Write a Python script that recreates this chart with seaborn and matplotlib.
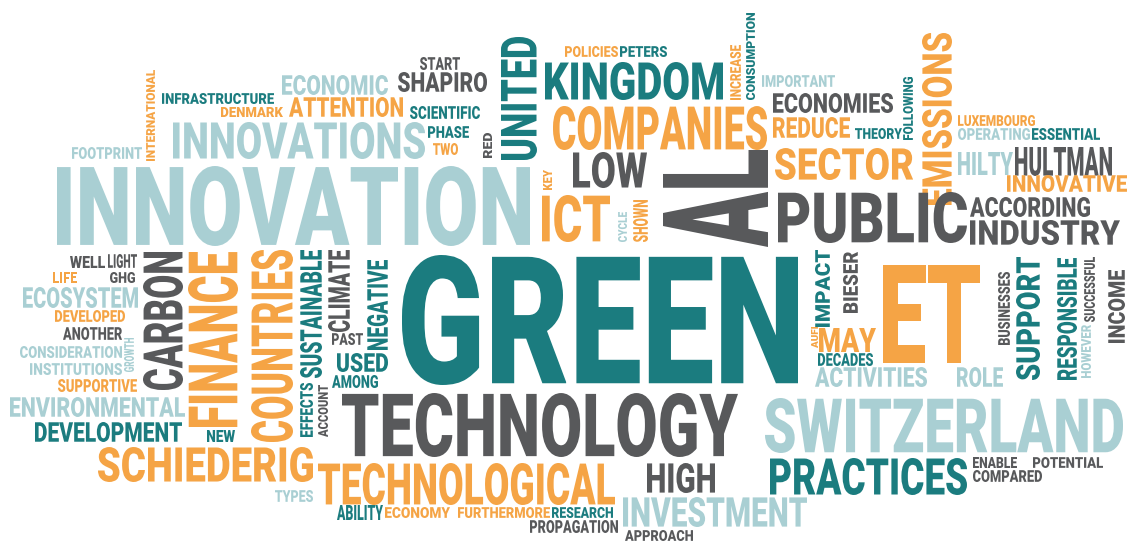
import matplotlib
matplotlib.use("Agg")
import matplotlib.pyplot as plt
import seaborn as sns
from matplotlib.patheffects import AbstractPathEffect
from matplotlib.transforms import Affine2D

# words of the cloud, and the colour group each one is printed in
words = [
    "INTERNATIONAL", "INFRASTRUCTURE", "DENMARK", "ECONOMIC", "ATTENTION",
    "INNOVATIONS", "FOOTPRINT", "INNOVATION", "START", "SHAPIRO",
    "SCIENTIFIC", "PHASE", "TWO", "RED", "UNITED",
    "POLICIES", "PETERS", "KINGDOM", "INCREASE", "CONSUMPTION",
    "COMPANIES", "IMPORTANT", "ECONOMIES", "REDUCE", "THEORY",
    "FOLLOWING", "EMISSIONS", "LUXEMBOURG", "OPERATING", "ESSENTIAL",
    "HILTY", "HULTMAN", "SECTOR", "INNOVATIVE", "LOW",
    "KEY", "ICT", "CYCLE", "SHOWN", "AL",
    "PUBLIC", "ACCORDING", "INDUSTRY", "GREEN", "IMPACT",
    "BIESER", "ET", "AUFI", "MAY", "DECADES",
    "ACTIVITIES", "ROLE", "BUSINESSES", "SUPPORT", "RESPONSIBLE",
    "HOWEVER", "SUCCESSFUL", "INCOME", "SWITZERLAND", "PRACTICES",
    "ENABLE", "POTENTIAL", "COMPARED", "INVESTMENT", "TECHNOLOGY",
    "TECHNOLOGICAL", "HIGH", "ABILITY", "ECONOMY", "FURTHERMORE",
    "RESEARCH", "PROPAGATION", "APPROACH", "USED", "AMONG",
    "COUNTRIES", "SUSTAINABLE", "CLIMATE", "PAST", "NEGATIVE",
    "EFFECTS", "ACCOUNT", "WELL", "LIGHT", "LIFE",
    "GHG", "ECOSYSTEM", "DEVELOPED", "ANOTHER", "CONSIDERATION",
    "GROWTH", "CARBON", "FINANCE", "INSTITUTIONS", "SUPPORTIVE",
    "ENVIRONMENTAL", "DEVELOPMENT", "NEW", "SCHIEDERIG", "TYPES",
]
# T teal, O orange, L light blue, G grey
groups = list(
    "OTOLO" "LLLGG" "TTOGT" "OTTOT" "OLGOT"
    "TOOLT" "LGOOG" "OOLOG" "GGGTT" "GOOOT"
    "LLGTT" "LGGLT" "GGGLG" "OGTOO" "TGGTT"
    "OTGGT" "TGGGO" "GLOGL" "LGOLO" "LTTOL"
)

# layout: ink box of each word in image pixels (x0, y0, x1, y1), and which words run upward
boxes = [
    (146, 70, 155, 161), (162, 93, 274, 104), (221, 107, 283, 117), (282, 75, 388, 95), (289, 97, 403, 117),
    (173, 122, 425, 159), (72, 147, 142, 159), (57, 166, 530, 246), (420, 57, 460, 70), (398, 72, 487, 92),
    (410, 106, 480, 119), (428, 126, 469, 138), (433, 143, 458, 155), (483, 133, 492, 158), (501, 37, 537, 160),
    (565, 46, 618, 57), (620, 46, 667, 57), (545, 62, 723, 100), (730, 45, 741, 100), (746, 13, 755, 100),
    (553, 106, 767, 150), (762, 75, 835, 87), (773, 93, 893, 113), (773, 117, 850, 138), (855, 128, 902, 139),
    (903, 77, 913, 140), (922, 33, 952, 205), (958, 115, 1035, 126), (958, 128, 1030, 140), (1032, 128, 1100, 140),
    (958, 152, 1013, 175), (1015, 147, 1112, 176), (775, 148, 913, 180), (1007, 175, 1127, 192), (573, 152, 647, 188),
    (543, 170, 552, 190), (542, 195, 610, 242), (618, 212, 627, 242), (633, 200, 648, 242), (663, 150, 768, 247),
    (778, 192, 967, 243), (970, 197, 1090, 217), (970, 220, 1120, 245), (402, 255, 798, 385), (815, 250, 830, 327),
    (843, 252, 858, 313), (883, 265, 980, 363), (811, 327, 818, 348), (819, 328, 876, 352), (818, 353, 873, 366),
    (815, 367, 927, 387), (957, 367, 1003, 387), (998, 272, 1010, 345), (1016, 257, 1040, 380), (1057, 258, 1077, 380),
    (1081, 325, 1091, 378), (1084, 257, 1095, 322), (1108, 270, 1125, 343), (765, 398, 1123, 453), (770, 458, 967, 495),
    (973, 457, 1017, 468), (1033, 457, 1103, 468), (973, 470, 1042, 482), (623, 497, 807, 527), (342, 393, 738, 457),
    (318, 463, 615, 505), (647, 463, 715, 493), (337, 505, 383, 520), (385, 507, 450, 518), (458, 507, 550, 518),
    (552, 507, 613, 518), (530, 520, 618, 533), (625, 530, 693, 541), (337, 353, 388, 372), (332, 375, 378, 388),
    (251, 250, 293, 442), (300, 250, 322, 378), (328, 250, 350, 332), (332, 333, 363, 345), (367, 260, 388, 350),
    (300, 383, 313, 437), (318, 385, 328, 437), (70, 256, 105, 268), (108, 254, 137, 268), (53, 272, 77, 283),
    (110, 272, 135, 283), (23, 287, 138, 308), (55, 310, 125, 322), (63, 327, 122, 340), (20, 346, 122, 358),
    (124, 338, 134, 372), (143, 252, 183, 390), (188, 252, 238, 427), (30, 363, 122, 375), (58, 379, 137, 392),
    (10, 397, 185, 417), (35, 422, 182, 442), (207, 430, 235, 442), (98, 447, 313, 482), (275, 490, 313, 502),
]
upward = {"INTERNATIONAL", "RED", "UNITED", "INCREASE", "CONSUMPTION", "FOLLOWING", "EMISSIONS",
          "KEY", "CYCLE", "SHOWN", "AL", "IMPACT", "BIESER", "AUFI", "BUSINESSES", "SUPPORT",
          "RESPONSIBLE", "HOWEVER", "SUCCESSFUL", "INCOME", "COUNTRIES", "SUSTAINABLE", "CLIMATE",
          "NEGATIVE", "EFFECTS", "ACCOUNT", "GROWTH", "CARBON", "FINANCE"}


class FitBox(AbstractPathEffect):
    """Squeeze the glyph outlines so the ink fills the word's box (a condensed look)."""

    def __init__(self, ax, box, vertical):
        super().__init__()
        self.ax, self.box, self.vertical = ax, box, vertical

    def draw_path(self, renderer, gc, tpath, affine, rgbFace=None):
        x0, y0, x1, y1 = self.box
        (ax0, ay0), (ax1, ay1) = self.ax.transData.transform([(x0, y0), (x1, y1)])
        left, right = sorted((ax0, ax1))
        bottom, top = sorted((ay0, ay1))
        ext = tpath.get_extents()
        tr = Affine2D().translate(-ext.x0, -ext.y0)
        if self.vertical:
            tr.scale((top - bottom) / ext.width, (right - left) / ext.height)
            tr.rotate_deg(90).translate(right, bottom)
        else:
            tr.scale((right - left) / ext.width, (top - bottom) / ext.height)
            tr.translate(left, bottom)
        renderer.draw_path(gc, tpath, tr, rgbFace)


sns.set_theme(style="white")
palette = dict(zip("TOLG", sns.color_palette(["#1b7c7f", "#f5a445", "#a9cfd3", "#58595b"])))

fig = plt.figure(figsize=(11.28, 5.41), dpi=100)
ax = fig.add_axes([0, 0, 1, 1])
ax.set_xlim(0, 1128)
ax.set_ylim(541, 0)
ax.axis("off")
renderer = fig.canvas.get_renderer()

for word, grp, box in zip(words, groups, boxes):
    vert = word in upward
    t = ax.text((box[0] + box[2]) / 2, (box[1] + box[3]) / 2, word,
                ha="center", va="center", rotation=90 if vert else 0,
                color=palette[grp], fontsize=10, fontweight="black",
                family=["Roboto", "DejaVu Sans"])
    # pick a font size whose plain extent sits inside the box
    bb = t.get_window_extent(renderer)
    scale = min((box[2] - box[0]) / bb.width, (box[3] - box[1]) / bb.height)
    t.set_fontsize(10 * scale)
    t.set_path_effects([FitBox(ax, box, vert)])

fig.savefig("out.png", dpi=100, facecolor="white")
